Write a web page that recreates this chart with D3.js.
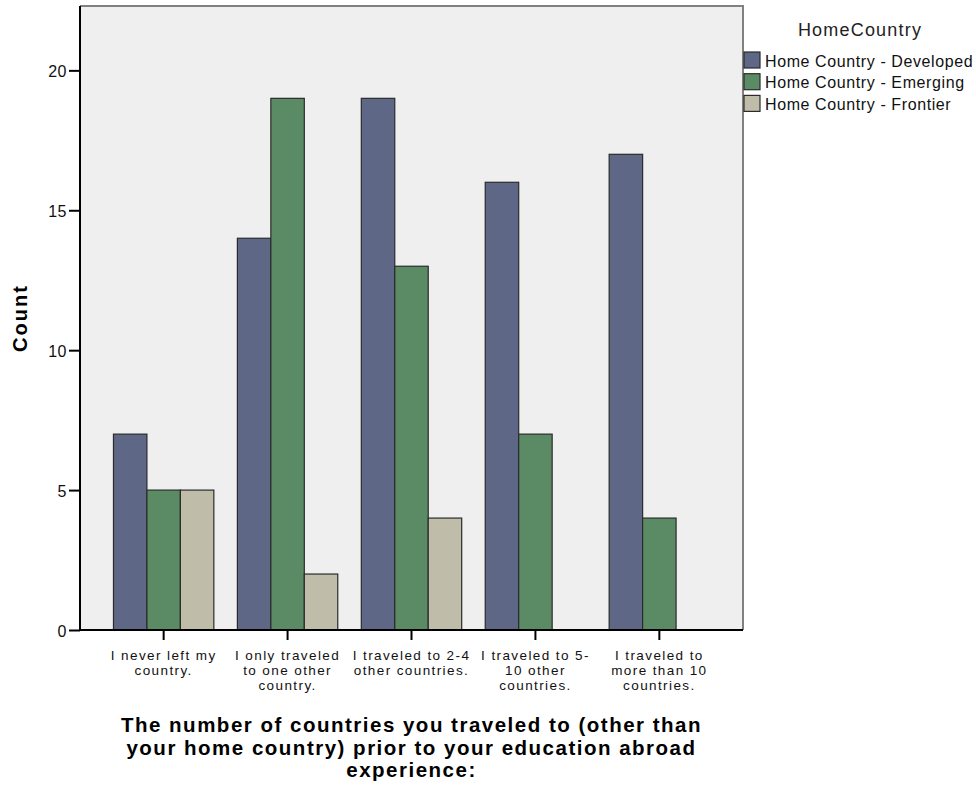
<!DOCTYPE html>
<html><head><meta charset="utf-8">
<script src="https://cdn.jsdelivr.net/npm/d3@7"></script>
<style>body{margin:0;background:#fff}svg{display:block}text{font-family:"Liberation Sans",Arial,sans-serif}</style>
</head><body>
<svg id="c" width="976" height="788"></svg>
<script>
const categories = [
  ["I never left my", "country."],
  ["I only traveled", "to one other", "country."],
  ["I traveled to 2-4", "other countries."],
  ["I traveled to 5-", "10 other", "countries."],
  ["I traveled to", "more than 10", "countries."]
];
const seriesNames = ["Home Country - Developed", "Home Country - Emerging", "Home Country - Frontier"];
const developed = [7, 14, 19, 16, 17];
const emerging = [5, 19, 13, 7, 4];
const frontier = [5, 2, 4, 0, 0];
const yTicks = [0, 5, 10, 15, 20];
const colors = ["#5f6786", "#5b8b64", "#bfbdaa"];
const seriesValues = [developed, emerging, frontier];

const svg = d3.select("#c");
const L = 80, R = 743, T = 6, B = 630;
const x = d3.scaleBand().domain(d3.range(categories.length)).range([L, R]).paddingInner(0.19).paddingOuter(0.27);
const xs = d3.scaleBand().domain(d3.range(seriesNames.length)).range([0, x.bandwidth()]);
const y = d3.scaleLinear().domain([0, 22.3]).range([B, T]);

svg.append("rect").attr("x", L).attr("y", T).attr("width", R - L).attr("height", B - T).attr("fill", "#efefef");
svg.append("path").attr("d", `M${L},${T}H${R}V${B}`).attr("fill", "none").attr("stroke", "#808080").attr("stroke-width", 2);

const g = svg.append("g");
seriesValues.forEach((vals, si) => {
  g.selectAll(null).data(vals.map((v, i) => ({v, i}))).join("rect")
    .filter(d => d.v > 0)
    .attr("x", d => x(d.i) + xs(si))
    .attr("y", d => y(d.v))
    .attr("width", xs.bandwidth())
    .attr("height", d => y(0) - y(d.v))
    .attr("fill", colors[si])
    .attr("stroke", "#2b2b2b").attr("stroke-width", 1.2);
});

const yAxis = svg.append("g").attr("transform", `translate(${L},0)`)
  .call(d3.axisLeft(y).tickValues(yTicks).tickSize(11).tickPadding(2).tickFormat(d3.format("d")));
yAxis.select(".domain").attr("stroke", "#000").attr("stroke-width", 2).attr("d", `M0,${B}V${T}`);
yAxis.selectAll(".tick line").attr("stroke", "#000").attr("stroke-width", 2);
yAxis.selectAll(".tick text").attr("font-size", 16).attr("letter-spacing", 0.5).attr("fill", "#111")
  .attr("font-family", "Liberation Sans, Arial").attr("dy", "0.38em");

const xAxis = svg.append("g").attr("transform", `translate(0,${B})`)
  .call(d3.axisBottom(x).tickSize(10).tickFormat(""));
xAxis.select(".domain").attr("stroke", "#000").attr("stroke-width", 2).attr("d", `M${L},0H${R}`);
xAxis.selectAll(".tick line").attr("stroke", "#000").attr("stroke-width", 2);
xAxis.selectAll(".tick").each(function(d) {
  const t = d3.select(this).append("text").attr("fill", "#111").attr("font-size", 13.5)
    .attr("letter-spacing", 1.4).attr("text-anchor", "middle").attr("font-family", "Liberation Sans, Arial");
  categories[d].forEach((line, k) => t.append("tspan").attr("x", 0).attr("y", 30 + k * 15).text(line));
});

svg.append("text").attr("transform", `translate(27,${(T + B) / 2}) rotate(-90)`)
  .attr("text-anchor", "middle").attr("font-size", 20).attr("letter-spacing", 2).attr("font-weight", "bold").text("Count");

const xt = ["The number of countries you traveled to (other than", "your home country) prior to your education abroad", "experience:"];
const xtt = svg.append("text").attr("text-anchor", "middle").attr("font-size", 20.5).attr("letter-spacing", 1.5).attr("font-weight", "bold");
xt.forEach((line, k) => xtt.append("tspan").attr("x", (L + R) / 2).attr("y", 732 + k * 22.5).text(line));

svg.append("text").attr("x", 860).attr("y", 36).attr("text-anchor", "middle").attr("font-size", 18)
  .attr("letter-spacing", 1.2).attr("fill", "#222").text("HomeCountry");
const lg = svg.append("g");
seriesNames.forEach((n, i) => {
  lg.append("rect").attr("x", 744).attr("y", 52 + i * 21.7).attr("width", 16).attr("height", 16)
    .attr("fill", colors[i]).attr("stroke", "#2b2b2b").attr("stroke-width", 1.2);
  lg.append("text").attr("x", 765).attr("y", 66.5 + i * 21.7).attr("font-size", 16).attr("letter-spacing", 0.6)
    .attr("fill", "#111").text(n);
});
</script>
</body></html>
